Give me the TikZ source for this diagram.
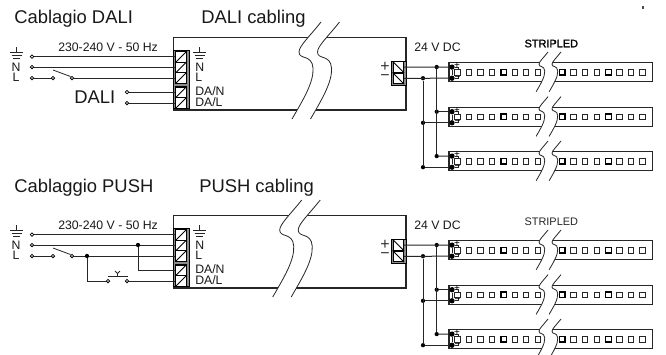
\documentclass[tikz,border=0pt]{standalone}
\usepackage{fontspec}
\setmainfont{Liberation Sans}
\newfontfamily\fakeboldfont[FakeBold=1.4]{Liberation Sans}
\usetikzlibrary{calc}
\tikzset{
  wire/.style={line width=0.75pt,black!85},
  outline/.style={line width=0.8pt,black!85},
  thin wire/.style={line width=0.6pt,black!85},
  title/.style={anchor=base west,inner sep=0,font=\fontsize{13.8}{14}\selectfont,text=black!90},
  small/.style={anchor=base west,inner sep=0,font=\fontsize{9.2}{10}\selectfont,text=black!90},
  mid/.style={anchor=base,inner sep=0,font=\fontsize{9.2}{10}\selectfont,text=black!90},
  sign/.style={inner sep=0,font=\fontsize{12}{12}\selectfont,text=black!80},
  tiny sign/.style={inner sep=0,font=\fontsize{7.5}{8}\selectfont,text=black},
  term/.style={draw,line width=0.9pt,minimum size=7.7pt,inner sep=0,fill=white},
  block/.style={draw,line width=0.7pt,fill=black!45,inner sep=0,anchor=north west},
  pin/.style={circle,draw,line width=0.55pt,fill=white,minimum size=2.6pt,inner sep=0},
  joint/.style={circle,fill=black,minimum size=3.2pt,inner sep=0},
  bigjoint/.style={circle,fill=black,minimum size=4pt,inner sep=0},
  led/.style={draw,line width=0.6pt,black!85,fill=white,minimum size=4.2pt,inner sep=0},
  boldled/.style={draw,line width=1pt,fill=white,minimum size=4.2pt,inner sep=0},
}
\newcommand\screwL[3]{\node[term] (#1) at (#2,#3) {};\draw[line width=0.7pt] (#1.south west)--(#1.north east);}
\newcommand\screwR[3]{\node[term] (#1) at (#2,#3) {};\draw[line width=0.7pt] (#1.north west)--(#1.south east);}
% break band: x, y, scale, gap (in scaled units)
\newcommand\band[4]{%
 \begin{scope}[shift={(#1,#2)},scale=#3]
  \fill[white] (0,0) .. controls (-11,14) and (-22,24) .. (-22,30) .. controls (-22,38) and (-9,32) .. (-8,46) .. controls (-7,60) and (-18,78) .. (-29,97)
    -- ({-29+#4},97) .. controls ({-18+#4},78) and ({-7+#4},60) .. ({-8+#4},46) .. controls ({-9+#4},32) and ({-22+#4},38) .. ({-22+#4},30) .. controls ({-22+#4},24) and ({-11+#4},14) .. (#4,0) -- cycle;
  \draw[thin wire] (0,0) .. controls (-11,14) and (-22,24) .. (-22,30) .. controls (-22,38) and (-9,32) .. (-8,46) .. controls (-7,60) and (-18,78) .. (-29,97);
  \draw[thin wire] (#4,0) .. controls ({-11+#4},14) and ({-22+#4},24) .. ({-22+#4},30) .. controls ({-22+#4},38) and ({-9+#4},32) .. ({-8+#4},46) .. controls ({-7+#4},60) and ({-18+#4},78) .. ({-29+#4},97);
 \end{scope}}
% LED strip: name, top y
\newcommand\strip[2]{%
 \draw[outline] (449,#2) rectangle (652.7,{#2+19});
 \band{548}{#2-10.7}{0.41}{31.7}
 \foreach \n/\x in {1/457.3,2/468.7,3/480.4,4/492,6/515,7/526,8/537.7}
   {\node[led] (#1l\n) at (\x,{#2+9.6}) {};}
 \node[boldled] (#1l5) at (503.8,{#2+9.6}) {};
 \node[boldled] (#1r1) at (562.3,{#2+9.6}) {};
 \node[boldled] (#1r5) at (608.5,{#2+9.6}) {};
 \foreach \n/\x in {2/573.5,3/585,4/596.7,6/619.5,7/631,8/642.5}
   {\node[led] (#1r\n) at (\x,{#2+9.6}) {};}
 \node[bigjoint] (#1p) at (452,{#2+4.4}) {};
 \node[bigjoint] (#1n) at (452,{#2+15.5}) {};
 \draw[thin wire] (#1p) -- (#1n);
 \draw[thin wire] (#1p.east) -- ++(3,0) -- ++(0,3.2);
 \draw[thin wire] (#1n.east) -- ++(3,0) -- ++(0,-3);
 \node[tiny sign] at (457,{#2+3.4}) {+};
 \node[tiny sign] at (457.5,{#2+15.7}) {−};
}
\newcommand\earth[2]{%
 \draw[thin wire] (#1,#2) -- (#1,{#2+5}) (#1-6.5,{#2+5}) -- (#1+6.5,{#2+5}) (#1-5,{#2+8}) -- (#1+5,{#2+8}) (#1-3.5,{#2+11}) -- (#1+3.5,{#2+11});}
\newcommand\panel[3]{%
 \begin{scope}[shift={(0,#2)}]
  \draw[outline] (173.5,37.5) rectangle (406,110);
  \band{#3}{22}{1}{18.5}
  \earth{16.5}{47}\node[mid] at (16,71) {N};\node[mid] at (16,81) {L};
  \earth{199.5}{47}\node[small] at (195,71) {N};\node[small] at (195,81) {L};
  \node[small] at (195,95.7) {DA/N};\node[small] at (195,106) {DA/L};
  \node[small] at (58,51.5) {230-240 V - 50 Hz};
  \node[small] at (414,51.7) {24 V DC};
  \node[block,minimum width=11.6pt,minimum height=43.5pt] (#1lb) at (173.3,50.2) {};
  \screwL{#1t1}{181}{57}\screwL{#1t2}{181}{67.5}\screwL{#1t3}{181}{78}
  \screwL{#1t4}{181}{92.2}\screwL{#1t5}{181}{103}
  \node[block,minimum width=11.2pt,minimum height=18.2pt] (#1rb) at (391.2,60.8) {};
  \screwR{#1o1}{398.3}{67}\screwR{#1o2}{398.3}{78.3}
  \node[sign] at (385,66.5) {+};\node[sign] at (385,78) {−};
  \node[pin] (#1c1) at (32,56.7) {};\node[pin] (#1c2) at (32,67) {};\node[pin] (#1c3) at (32,78) {};
  \node[pin] (#1s1) at (53,78) {};\node[pin] (#1s2) at (72,78) {};
  \draw[wire] (#1c1) -- (#1c1-|#1t1.west);
  \draw[wire] (#1c2) -- (#1c2-|#1t2.west);
  \draw[wire] (#1c3) -- (#1s1);
  \draw[wire] (#1s2) -- (#1s2-|#1t3.west);
  \draw[thin wire] (#1s1) ++(0,-8) -- (#1s2.north west);
  \strip{#1a}{62.7}\strip{#1b}{107.3}\strip{#1d}{151.7}
  \node[joint] (#1jp1) at (436.7,67) {};\node[joint] (#1jp2) at (436.7,111.7) {};\node[joint] (#1jp3) at (436.7,156.1) {};
  \node[joint] (#1jn1) at (423,78.2) {};\node[joint] (#1jn2) at (423,122.8) {};\node[joint] (#1jn3) at (423,167.2) {};
  \draw[wire] (#1o1.east) -- (#1ap);
  \draw[wire] (#1o2.east) -- (#1an);
  \draw[wire] (#1jp2) -- (#1bp);\draw[wire] (#1jn2) -- (#1bn);
  \draw[wire] (#1jp3) -- (#1dp);\draw[wire] (#1jn3) -- (#1dn);
  \draw[wire] (#1jp1) -- (#1jp3);
  \draw[wire] (#1jn1) -- (#1jn3);
 \end{scope}}
\begin{document}
\begin{tikzpicture}[x=0.75pt,y=-0.75pt]
\useasboundingbox (0,0) rectangle (666,354);
\clip (0,0) rectangle (666,354);
\fill[white] (0,0) rectangle (666,354);
\node[title] (ti1) at (14,23) {Cablagio DALI};
\node[title] (ti2) at (201,23) {DALI cabling};
\node[title] (ti3) at (14,192.3) {Cablaggio PUSH};
\node[title] (ti4) at (199,192.3) {PUSH cabling};
\node[anchor=base,inner sep=0,font=\fakeboldfont\fontsize{8.2}{9}\selectfont] (st1) at (551.3,47.3) {STRIPLED};
\node[anchor=base,inner sep=0,font=\fontsize{8.2}{9}\selectfont,text=black!85] (st2) at (551.3,225.3) {STRIPLED};
\fill[black!70] (642,6) rectangle (644,8.5);
\panel{u}{0}{321}
\panel{v}{178}{301.7}
\node[title] (dali) at (74,103.3) {DALI};
\node[pin] (ud1) at (127,92.2) {};\node[pin] (ud2) at (127,103) {};
\draw[wire] (ud1) -- (ut4.west);
\draw[wire] (ud2) -- (ut5.west);
\node[joint] (jn) at (138,245) {};
\node[joint] (jl) at (87,256) {};
\node[pin] (pb1) at (108,281) {};\node[pin] (pb2) at (127,281) {};
\coordinate (pbm) at (117.5,276);
\draw[wire] (jn) |- (vt4.west);
\draw[wire] (jl) |- (pb1.west);
\draw[wire] (pb2.east) -- (vt5.west);
\draw[thin wire] (108,276) -- (128,276);
\draw[thin wire] (pbm) -- ++(0,-2.5) -- ++(-2.5,-2.5);
\draw[thin wire] (pbm) ++(0,-2.5) -- ++(2.5,-2.5);
\end{tikzpicture}
\end{document}
